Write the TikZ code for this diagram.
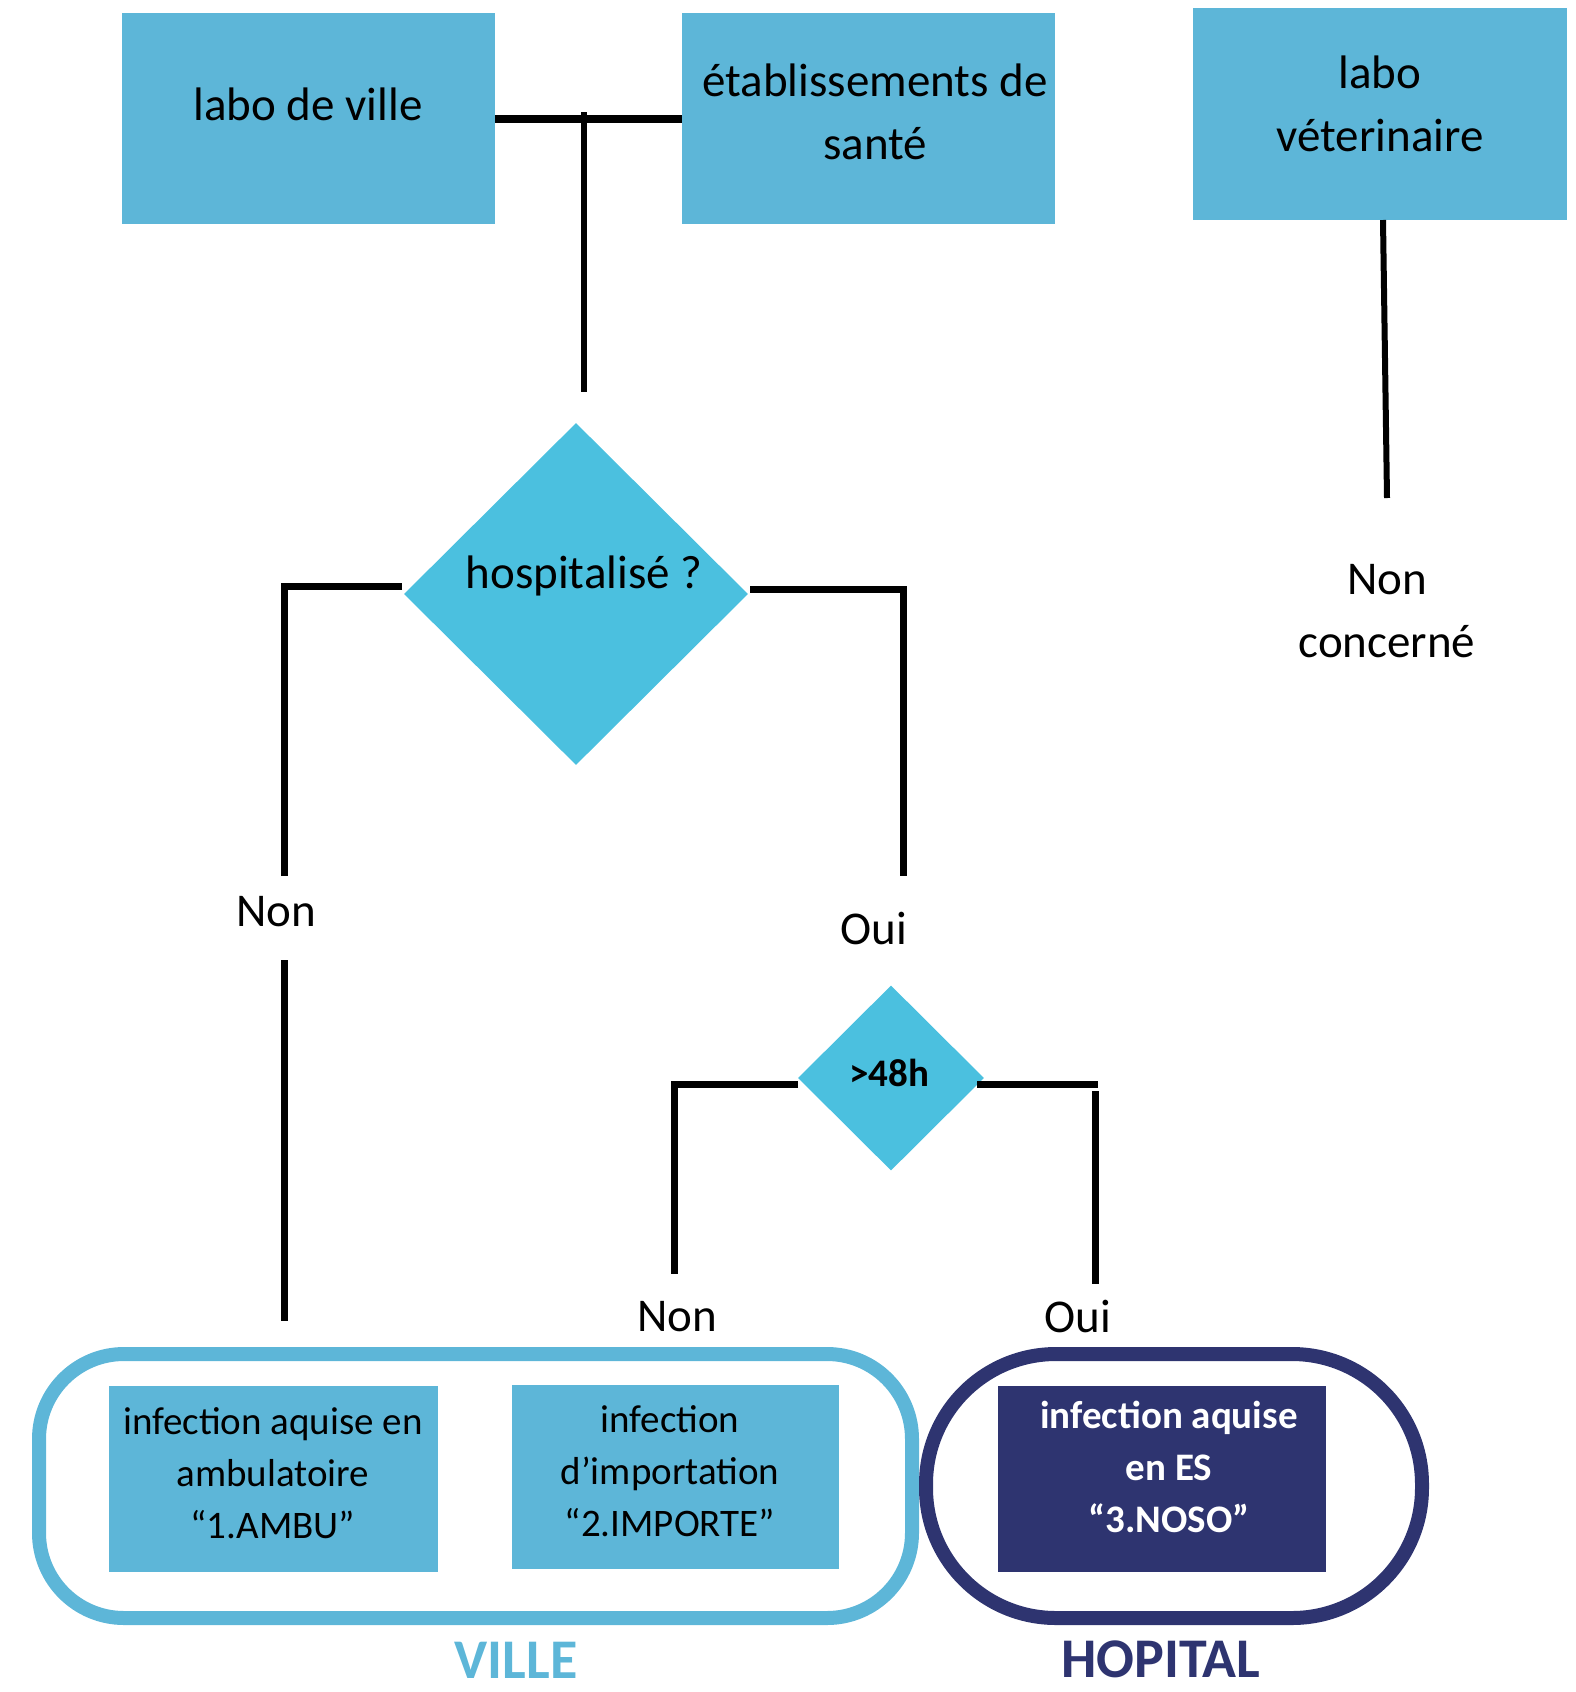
\documentclass[tikz,border=0pt]{standalone}
\usepackage{fontspec}
\setmainfont{Carlito}
\usetikzlibrary{shapes.geometric}
\definecolor{boxblue}{RGB}{93,182,216}
\definecolor{diablue}{RGB}{75,192,223}
\definecolor{navy}{RGB}{46,52,112}
\begin{document}
\begin{tikzpicture}[x=1pt,y=-1pt,
  box/.style={rectangle, fill=boxblue, draw=none, inner sep=0pt},
  dia/.style={diamond, fill=diablue, draw=none, inner sep=0pt},
  conn/.style={line width=7pt, draw=black},
  bigtxt/.style={font=\fontsize{47}{63}\selectfont, align=center, inner sep=0pt},
  smalltxt/.style={font=\fontsize{39}{52}\selectfont, align=center, inner sep=0pt},
  frame/.style={draw, line width=14pt, fill=none, inner sep=0pt}]
\useasboundingbox (0,0) rectangle (1576,1692);
% top boxes
\node[box, minimum width=373pt, minimum height=211pt] (ville) at (308.5,118.5) {};
\node[box, minimum width=373pt, minimum height=211pt] (etab) at (868.5,118.5) {};
\node[box, minimum width=374pt, minimum height=212pt] (veto) at (1380,114) {};
\node[bigtxt] (villet) at (308,104) {labo de ville};
\node[bigtxt] (etabt) at (875,111.5) {établissements de\\santé};
\node[bigtxt] (vetot) at (1380,104) {labo\\véterinaire};
% T junction
\coordinate (tj) at (584,112);
\coordinate (hin) at (584,392);
\draw[line width=8pt] (ville.east) -- (etab.west);
\draw[line width=6pt] (tj) -- (hin);
% veterinaire
\coordinate (vetoend) at (1387,498);
\draw[line width=6pt] (1383,220) coordinate (vetostart) -- (vetoend);
\node[bigtxt] (nonconc) at (1387,611) {Non\\concerné};
% hospitalise diamond
\node[dia, minimum width=344pt, minimum height=342pt] (hosp) at (576,594) {};
\node[bigtxt] (hospt) at (584,576) {hospitalisé ?};
\coordinate (hl1) at (284,586);
\coordinate (hl2) at (284,876);
\coordinate (hr1) at (903,589);
\coordinate (hr2) at (903,876);
\draw[conn, miter limit=10] (402,586) coordinate (hl0) -- (hl1) -- (hl2);
\draw[conn] (750,589) coordinate (hr0) -- (hr1) -- (hr2);
\node[bigtxt] (non1) at (276,912) {Non};
\node[bigtxt] (oui1) at (874,928) {Oui};
\coordinate (hl3) at (284,960);
\coordinate (hl4) at (284,1321);
\draw[conn] (hl3) -- (hl4);
% 48h diamond
\node[dia, minimum width=186pt, minimum height=185pt] (d48) at (891,1078) {};
\node[font=\bfseries\fontsize{39}{42}\selectfont, inner sep=0pt] (d48t) at (889,1073) {>48h};
\coordinate (dl1) at (674,1084);
\coordinate (dl2) at (674,1274);
\coordinate (dr1) at (1098,1084);
\coordinate (dr2) at (1095,1091);
\coordinate (dr3) at (1095,1284);
\draw[conn] (798,1084) coordinate (dl0) -- (dl1) -- (dl2);
\draw[conn] (977,1084) coordinate (dr0) -- (dr1);
\draw[conn] (dr2) -- (dr3);
\node[bigtxt] (non2) at (677,1317) {Non};
\node[bigtxt] (oui2) at (1078,1316) {Oui};
% frames
\node[frame, draw=boxblue, rounded corners=85pt, minimum width=873pt, minimum height=264pt] (villeframe) at (475.5,1486) {};
\node[frame, draw=navy, rounded corners=130pt, minimum width=496pt, minimum height=264pt] (hopframe) at (1174,1486) {};
% bottom boxes
\node[box, minimum width=329pt, minimum height=186pt] (ambu) at (273.5,1479) {};
\node[box, minimum width=327pt, minimum height=184pt] (importe) at (675.5,1477) {};
\node[box, fill=navy, minimum width=328pt, minimum height=186pt] (noso) at (1162,1479) {};
\node[smalltxt] (ambut) at (273,1473) {infection aquise en\\ambulatoire\\“1.AMBU”};
\node[smalltxt] (importet) at (670,1471.5) {infection\\d’importation\\“2.IMPORTE”};
\node[smalltxt, text=white, font=\bfseries\fontsize{39}{52}\selectfont] (nosot) at (1169,1467) {infection aquise\\en ES\\“3.NOSO”};
% titles
\node[font=\bfseries\fontsize{56}{60}\selectfont, text=boxblue, inner sep=0pt] (villelab) at (516,1660) {VILLE};
\node[font=\bfseries\fontsize{56}{60}\selectfont, text=navy, inner sep=0pt] (hoplab) at (1161,1659) {HOPITAL};
\end{tikzpicture}
\end{document}
